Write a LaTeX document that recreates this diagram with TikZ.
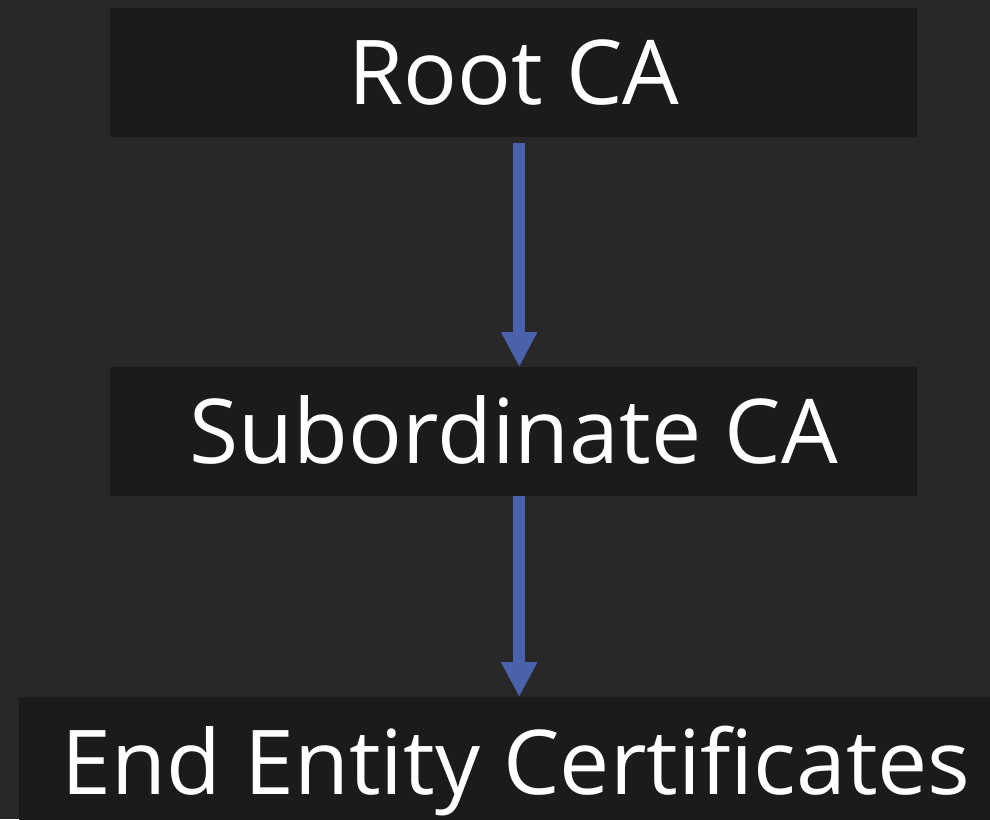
\documentclass[tikz,border=0pt]{standalone}
\usepackage{fontspec}
\setmainfont{Open Sans}
\usetikzlibrary{arrows.meta}
\definecolor{canvas}{HTML}{282828}
\definecolor{boxfill}{HTML}{1B1B1B}
\definecolor{linkblue}{HTML}{4A62AB}
\tikzset{
  x=1pt, y=-1pt,
  cabox/.style={fill=boxfill, text=white, inner sep=0pt, anchor=north west,
    font=\fontsize{89.5}{100}\selectfont, text height=64pt, text depth=0pt},
  chain/.style={draw=linkblue, line width=11.5pt,
    -{Triangle[length=35pt, width=34pt]}, shorten >=0pt}
}
\begin{document}
\begin{tikzpicture}
  \clip (0,0) rectangle (990,819);
  \fill[canvas] (0,0) rectangle (990,819);
  % certificate hierarchy boxes
  \node[cabox, minimum width=807pt, minimum height=129pt] (root) at (110,8) {Root CA};
  \node[cabox, minimum width=807pt, minimum height=129pt] (sub) at (110,367) {Subordinate CA};
  \node[cabox, minimum width=994pt, minimum height=130pt] (ee) at (19,697) {End Entity Certificates};
  % trust chain arrows, slightly right of the box centres
  \coordinate (rootout) at ([xshift=5.5pt, yshift=-6pt]root.south);
  \coordinate (subin) at ([xshift=5.5pt]sub.north);
  \coordinate (subout) at ([xshift=5.5pt]sub.south);
  \draw[chain] (rootout) -- (subin);
  \draw[chain] (subout) -- (subout |- ee.north);
\end{tikzpicture}
\end{document}
